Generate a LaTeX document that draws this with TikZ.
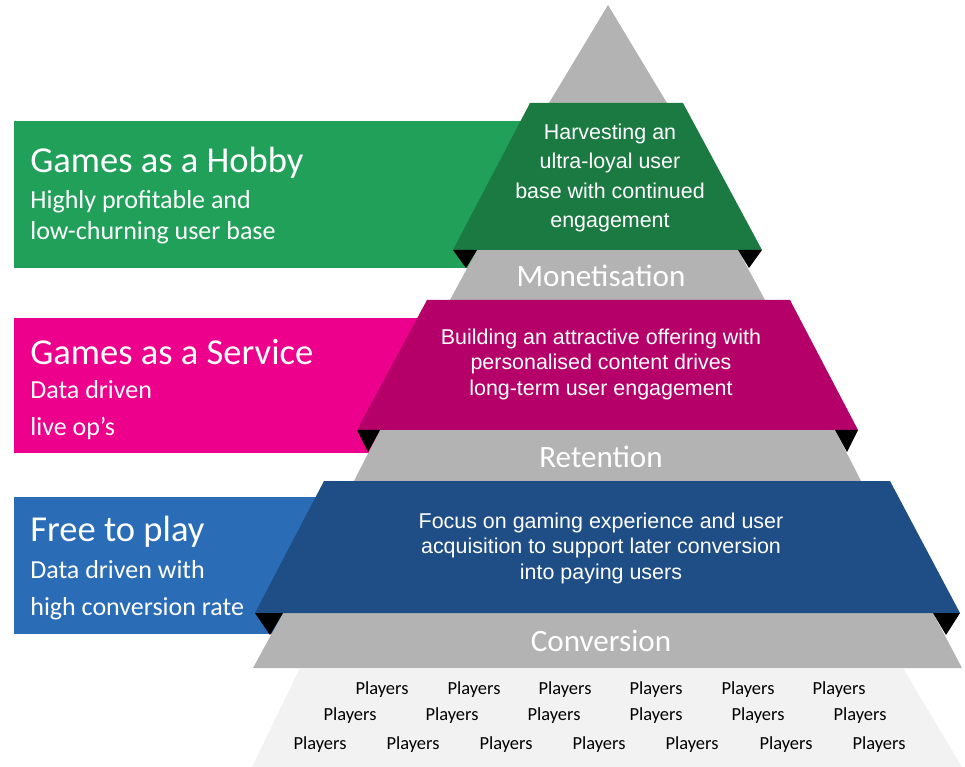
\documentclass[tikz,border=0pt]{standalone}
\usepackage{fontspec}
\setmainfont{Carlito}
\newfontfamily\arialfont{Liberation Sans}
\usetikzlibrary{positioning}

\definecolor{hobbybox}{RGB}{33,160,90}
\definecolor{hobbytrap}{RGB}{27,122,66}
\definecolor{servicebox}{RGB}{236,0,140}
\definecolor{servicetrap}{RGB}{180,0,104}
\definecolor{freebox}{RGB}{43,108,182}
\definecolor{freetrap}{RGB}{31,78,135}
\definecolor{pyrgray}{RGB}{179,179,179}
\definecolor{basegray}{RGB}{242,242,242}

\tikzset{
  title/.style={anchor=west,text=white,inner sep=0pt,font=\fontsize{20.8}{25}\selectfont},
  sub/.style={anchor=west,text=white,inner sep=0pt,font=\fontsize{14.8}{17}\selectfont},
  stage/.style={text=white,font=\fontsize{17.7}{21}\selectfont},
  blurb/.style={text=white,align=center,font=\arialfont\fontsize{12.2}{14.5}\selectfont},
  player/.style={inner sep=0pt,font=\fontsize{10.5}{12}\selectfont},
}

\begin{document}
\begin{tikzpicture}[x=0.02cm,y=-0.02cm]
  \useasboundingbox (0,0) rectangle (965,767);

  % side panels
  \fill[hobbybox]   (14,121) rectangle (530,268);
  \fill[servicebox] (14,318) rectangle (430,453);
  \fill[freebox]    (14,497) rectangle (330,634);

  % grey pyramid and base
  \fill[pyrgray] (608,5) -- (676,118) -- (540,118) -- cycle;
  \fill[pyrgray] (477,250) -- (738,250) -- (765,300) -- (450,300) -- cycle;
  \fill[pyrgray] (380,430) -- (835,430) -- (861,481) -- (354,481) -- cycle;
  \fill[pyrgray] (283,613) -- (933,613) -- (962,668) -- (253,668) -- cycle;
  \fill[basegray] (300,668) -- (903,668) -- (962,767) -- (252,767) -- cycle;

  % coloured bands
  \fill[hobbytrap]   (530,103) -- (683,103) -- (762,250) -- (453,250) -- cycle;
  \fill[servicetrap] (427,300) -- (790,300) -- (858,430) -- (357,430) -- cycle;
  \fill[freetrap]    (324,481) -- (890,481) -- (960,613) -- (255,613) -- cycle;

  % shadow corners
  \fill[black] (453,250) -- (477,250) -- (466,268) -- cycle
               (738,250) -- (762,250) -- (749,268) -- cycle;
  \fill[black] (357,430) -- (380,430) -- (368,452) -- cycle
               (835,430) -- (858,430) -- (847,452) -- cycle;
  \fill[black] (255,613) -- (283,613) -- (270,635) -- cycle
               (933,613) -- (960,613) -- (946,635) -- cycle;

  % panel texts
  \node[title] (hobby) at (30,163) {Games as a Hobby};
  \node[sub] (hobbyA) at (30,202) {Highly profitable and};
  \node[sub] (hobbyB) at (30,233) {low-churning user base};

  \node[title] (service) at (30,352) {Games as a Service};
  \node[sub] (serviceA) at (30,390) {Data driven};
  \node[sub] (serviceB) at (30,428) {live op’s};

  \node[title] (free) at (30,532) {Free to play};
  \node[sub] (freeA) at (30,570) {Data driven with};
  \node[sub] (freeB) at (30,609) {high conversion rate};

  % band texts
  \node[blurb,font=\arialfont\fontsize{12.2}{16.6}\selectfont] (harvest) at (610,178)
    {Harvesting an\\ultra-loyal user\\base with continued\\engagement};
  \node[blurb] (offer) at (601,364)
    {Building an attractive offering with\\personalised content drives\\long-term user engagement};
  \node[blurb] (focus) at (601,548)
    {Focus on gaming experience and user\\acquisition to support later conversion\\into paying users};

  \node[stage] (monet) at (601,276) {Monetisation};
  \node[stage] (reten) at (601,457) {Retention};
  \node[stage] (conv)  at (601,641) {Conversion};

  % players
  \foreach \x [count=\n] in {382,474,565,656,748,839}
    \node[player] (pa\n) at (\x,690) {Players};
  \foreach \x [count=\n] in {350,452,554,656,758,860}
    \node[player] (pb\n) at (\x,716) {Players};
  \foreach \x [count=\n] in {320,413,506,599,692,786,879}
    \node[player] (pc\n) at (\x,745) {Players};
\end{tikzpicture}
\end{document}
